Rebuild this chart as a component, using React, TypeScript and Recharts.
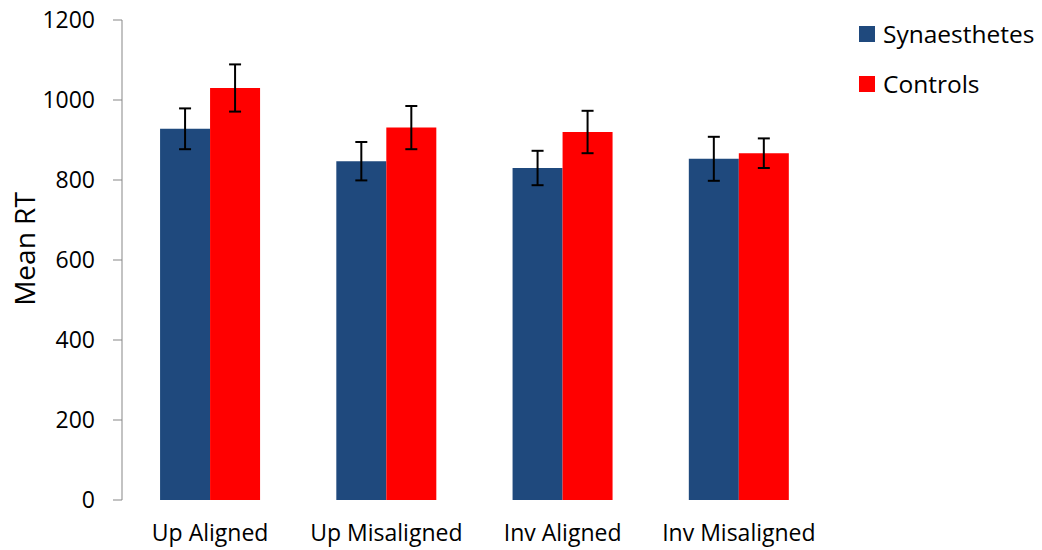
import React from 'react';
import { BarChart, Bar, XAxis, YAxis, ErrorBar, Legend } from 'recharts';

const categories = ['Up Aligned', 'Up Misaligned', 'Inv Aligned', 'Inv Misaligned'];
const seriesNames = ['Synaesthetes', 'Controls'];
const synaesthetes = [928, 847, 830, 853];
const synaesthetesErr = [51, 48, 43, 55];
const controls = [1030, 931, 920, 867];
const controlsErr = [59, 54, 53, 37];
const yTicks = [0, 200, 400, 600, 800, 1000, 1200];
const boundaryTicks = [0, 1, 2, 3, 4];

const data = categories.map((c, i) => ({
  name: c,
  syn: synaesthetes[i],
  synErr: synaesthetesErr[i],
  ctrl: controls[i],
  ctrlErr: controlsErr[i],
}));

const FONT = '"Open Sans", sans-serif';
const AXIS = '#878787';

const YLabel = () => (
  <text
    transform="translate(27, 241) rotate(-90)"
    textAnchor="middle"
    fontFamily={FONT}
    fontSize={28}
    fill="#000"
  >
    Mean RT
  </text>
);

const LegendContent = (props: any) => {
  const payload = [...(props.payload || [])].sort(
    (a: any, b: any) => seriesNames.indexOf(a.value) - seriesNames.indexOf(b.value)
  );
  return (
    <div style={{ fontFamily: FONT, fontSize: 24.5, color: '#000', lineHeight: 1 }}>
      {payload.map((p: any) => (
        <div key={p.value} style={{ display: 'flex', alignItems: 'center', height: 50 }}>
          <div style={{ width: 16, height: 16, background: p.color, marginRight: 8, flex: 'none' }} />
          <span style={{ whiteSpace: 'nowrap' }}>{p.value}</span>
        </div>
      ))}
    </div>
  );
};

export default function App() {
  return (
    <div>
      <style>{'.recharts-surface{overflow:visible}'}</style>
      <BarChart
        width={1034}
        height={542}
        data={data}
        margin={{ top: 12, right: 215, bottom: 0, left: 0 }}
        barCategoryGap="21.6%"
        barGap={0}
      >
        <XAxis
          xAxisId="grid"
          type="number"
          domain={[0, 4]}
          ticks={boundaryTicks}
          allowDataOverflow
          height={0}
          tick={false}
          tickSize={8}
          tickLine={{ stroke: AXIS }}
          axisLine={{ stroke: AXIS }}
        />
        <XAxis
          dataKey="name"
          height={50}
          axisLine={false}
          tickLine={false}
          tickSize={0}
          tickMargin={25}
          interval={0}
          tick={{ fill: '#000', fontSize: 23, fontFamily: FONT }}
        />
        <YAxis
          width={114}
          domain={[0, 1200]}
          ticks={yTicks}
          interval={0}
          tickSize={9}
          tickMargin={18}
          axisLine={{ stroke: AXIS }}
          tickLine={{ stroke: AXIS }}
          tick={{ fill: '#000', fontSize: 23, fontFamily: FONT }}
          label={{ content: <YLabel /> }}
        />
        <Legend
          layout="horizontal"
          verticalAlign="middle"
          align="center"
          content={<LegendContent />}
          wrapperStyle={{ position: 'absolute', left: 851, top: 1, width: 'auto', height: 'auto' }}
        />
        <Bar dataKey="syn" name="Synaesthetes" fill="#1F497D" isAnimationActive={false}>
          <ErrorBar dataKey="synErr" width={6} strokeWidth={2} stroke="#000" />
        </Bar>
        <Bar dataKey="ctrl" name="Controls" fill="#FF0000" isAnimationActive={false}>
          <ErrorBar dataKey="ctrlErr" width={6} strokeWidth={2} stroke="#000" />
        </Bar>
      </BarChart>
    </div>
  );
}
